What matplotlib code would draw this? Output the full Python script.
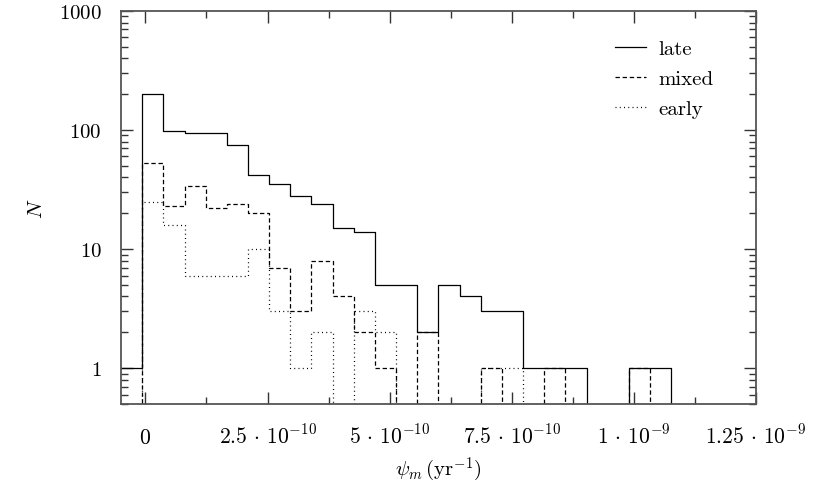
#
# star formation rate histogram (late / mixed / early)
#

import numpy as np
import matplotlib
matplotlib.use('Agg')
import matplotlib.pyplot as plt
from matplotlib.ticker import FixedLocator, FuncFormatter, LogLocator, NullFormatter

plt.rcParams['font.family'] = 'serif'
plt.rcParams['font.serif'] = ['cmr10', 'DejaVu Serif']
plt.rcParams['mathtext.fontset'] = 'cm'
plt.rcParams['axes.unicode_minus'] = False

# 30 bins from -5e-11 to 1.25e-9 yr^-1
BIN_LO = -5e-11
BIN_HI = 1.25e-9
N_BINS = 30

# counts per bin
late = [1, 200, 98, 95, 95, 75, 42, 35, 28, 24, 15, 14, 5, 5, 2, 5,
        4, 3, 3, 1, 1, 1, 0, 0, 1, 1, 0, 0, 0, 0]
mixed = [0, 53, 23, 34, 22, 24, 20, 7, 3, 8, 4, 2, 1, 0, 2, 0,
         0, 1, 0, 0, 1, 0, 0, 0, 1, 0, 0, 0, 0, 0]
early = [0, 25, 16, 6, 6, 6, 10, 3, 1, 2, 0, 3, 2, 0, 0, 0,
         0, 1, 1, 0, 0, 0, 0, 0, 0, 0, 0, 0, 0, 0]

series = [('late', late, '-'),
          ('mixed', mixed, (0, (3.5, 2.2))),
          ('early', early, (0, (0.8, 2.6)))]

xticks = [0, 2.5e-10, 5e-10, 7.5e-10, 1e-9, 1.25e-9]
xticklabels = [r'$0$', r'$2.5\,\cdot\,10^{-10}$', r'$5\,\cdot\,10^{-10}$',
               r'$7.5\,\cdot\,10^{-10}$', r'$1\,\cdot\,10^{-9}$',
               r'$1.25\,\cdot\,10^{-9}$']

edges = np.linspace(BIN_LO, BIN_HI, N_BINS + 1)

fig = plt.figure(figsize=(8.3, 4.89), dpi=100)
ax = fig.add_axes([0.1458, 0.1718, 0.7650, 0.8037])

for name, counts, ls in series:
    counts = np.asarray(counts, dtype=float)
    # empty bins go below the visible range of the log axis
    shown = np.where(counts > 0, counts, 1e-2)
    ax.step(edges, np.append(shown, shown[-1]), where='post',
            color='black', lw=0.9, ls=ls, label=name)

ax.set_yscale('log')
ax.set_ylim(0.5, 1000)
ax.set_xlim(BIN_LO, BIN_HI)

# axis ticks like gnuplot: inward, mirrored
ax.xaxis.set_major_locator(FixedLocator(xticks))
ax.xaxis.set_minor_locator(FixedLocator(np.arange(1.25e-10, 1.25e-9, 2.5e-10)))
ax.set_xticklabels(xticklabels)
ax.yaxis.set_major_locator(FixedLocator([1, 10, 100, 1000]))
ax.yaxis.set_major_formatter(FuncFormatter(lambda v, p: r'$%d$' % v))
ax.yaxis.set_minor_locator(LogLocator(base=10, subs=np.arange(2, 10)))
ax.yaxis.set_minor_formatter(NullFormatter())

ax.tick_params(which='both', direction='in', top=True, right=True,
               color='#333333', width=1.0, labelsize=15)
ax.tick_params(which='major', length=8.6)
ax.tick_params(which='minor', length=5)
ax.tick_params(axis='x', which='major', pad=28, labelsize=15.5)
ax.tick_params(axis='y', which='major', pad=14)
plt.setp(ax.get_xticklabels(), va='baseline')

for s in ax.spines.values():
    s.set_color('#555555')
    s.set_linewidth(1.3)

ax.set_xlabel(r'$\psi_m\,(\mathrm{yr}^{-1})$', fontsize=15)
ax.xaxis.set_label_coords(0.5, -0.13)
ax.set_ylabel(r'$N$', fontsize=15)
ax.yaxis.set_label_coords(-0.118, 0.5)

ax.legend(loc='upper left', bbox_to_anchor=(0.748, 0.975), frameon=False,
          fontsize=15, handlelength=1.5, handletextpad=0.6, labelspacing=0.55)

fig.savefig('out.png', dpi=100)
